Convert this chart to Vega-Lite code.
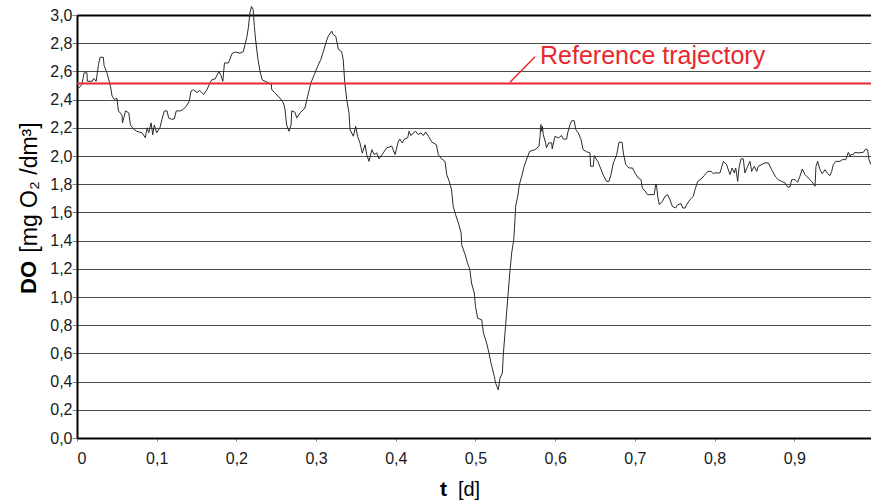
{
  "$schema": "https://vega.github.io/schema/vega-lite/v6.json",
  "width": 794,
  "height": 423,
  "autosize": "none",
  "padding": {"left": 77, "top": 15, "right": 0, "bottom": 63},
  "background": "white",
  "config": {"view": {"stroke": null}, "font": "Liberation Sans"},
  "resolve": {"axis": {"x": "independent", "y": "independent"}},
  "layer": [
    {
      "data": {"values": [
        {"t":0.002,"DO":2.48},{"t":0.006,"DO":2.507},{"t":0.009,"DO":2.59},{"t":0.0125,"DO":2.59},{"t":0.013,"DO":2.53},{"t":0.019,"DO":2.53},{"t":0.021,"DO":2.55},{"t":0.024,"DO":2.53},{"t":0.027,"DO":2.65},{"t":0.029,"DO":2.70},{"t":0.033,"DO":2.70},{"t":0.034,"DO":2.64},{"t":0.0376,"DO":2.59},{"t":0.042,"DO":2.495},{"t":0.044,"DO":2.425},{"t":0.047,"DO":2.40},{"t":0.050,"DO":2.41},{"t":0.052,"DO":2.32},{"t":0.0565,"DO":2.29},{"t":0.057,"DO":2.235},{"t":0.061,"DO":2.32},{"t":0.065,"DO":2.305},{"t":0.067,"DO":2.22},{"t":0.071,"DO":2.19},{"t":0.075,"DO":2.175},{"t":0.0816,"DO":2.165},{"t":0.0857,"DO":2.13},{"t":0.088,"DO":2.20},{"t":0.09,"DO":2.165},{"t":0.093,"DO":2.235},{"t":0.095,"DO":2.15},{"t":0.097,"DO":2.22},{"t":0.10,"DO":2.165},{"t":0.104,"DO":2.20},{"t":0.1066,"DO":2.26},{"t":0.1096,"DO":2.32},{"t":0.113,"DO":2.32},{"t":0.115,"DO":2.27},{"t":0.119,"DO":2.26},{"t":0.122,"DO":2.263},{"t":0.1246,"DO":2.32},{"t":0.1297,"DO":2.32},{"t":0.133,"DO":2.33},{"t":0.137,"DO":2.353},{"t":0.141,"DO":2.39},{"t":0.143,"DO":2.46},{"t":0.146,"DO":2.47},{"t":0.1506,"DO":2.45},{"t":0.154,"DO":2.465},{"t":0.159,"DO":2.436},{"t":0.163,"DO":2.47},{"t":0.167,"DO":2.52},{"t":0.169,"DO":2.54},{"t":0.1735,"DO":2.547},{"t":0.178,"DO":2.60},{"t":0.1807,"DO":2.57},{"t":0.183,"DO":2.53},{"t":0.185,"DO":2.66},{"t":0.19,"DO":2.66},{"t":0.1945,"DO":2.727},{"t":0.1986,"DO":2.737},
        {"t":0.2045,"DO":2.73},{"t":0.2087,"DO":2.74},{"t":0.213,"DO":2.84},{"t":0.215,"DO":2.91},{"t":0.217,"DO":3.016},{"t":0.219,"DO":3.06},{"t":0.221,"DO":3.04},{"t":0.2225,"DO":2.92},{"t":0.224,"DO":2.83},{"t":0.2267,"DO":2.70},{"t":0.2296,"DO":2.60},{"t":0.2325,"DO":2.54},{"t":0.236,"DO":2.53},{"t":0.24,"DO":2.52},{"t":0.244,"DO":2.507},{"t":0.2443,"DO":2.47},{"t":0.248,"DO":2.45},{"t":0.2547,"DO":2.41},{"t":0.259,"DO":2.377},{"t":0.261,"DO":2.33},{"t":0.263,"DO":2.22},{"t":0.266,"DO":2.175},{"t":0.2686,"DO":2.22},{"t":0.2694,"DO":2.32},{"t":0.2735,"DO":2.31},{"t":0.2757,"DO":2.27},{"t":0.28,"DO":2.306},{"t":0.286,"DO":2.34},{"t":0.2894,"DO":2.424},{"t":0.2936,"DO":2.52},{"t":0.2978,"DO":2.578},{"t":0.302,"DO":2.637},{"t":0.306,"DO":2.685},{"t":0.309,"DO":2.74},{"t":0.313,"DO":2.815},{"t":0.3153,"DO":2.85},{"t":0.3196,"DO":2.886},{"t":0.3216,"DO":2.86},{"t":0.3246,"DO":2.85},{"t":0.328,"DO":2.756},{"t":0.332,"DO":2.74},{"t":0.334,"DO":2.685},{"t":0.336,"DO":2.52},{"t":0.3384,"DO":2.40},{"t":0.3413,"DO":2.306},{"t":0.3425,"DO":2.188},{"t":0.3467,"DO":2.14},{"t":0.3497,"DO":2.21},{"t":0.352,"DO":2.14},{"t":0.355,"DO":2.093},{"t":0.358,"DO":2.02},{"t":0.3614,"DO":2.08},{"t":0.3635,"DO":2.01},{"t":0.3664,"DO":1.962},{"t":0.37,"DO":2.045},{"t":0.373,"DO":2.01},{"t":0.376,"DO":2.022},{"t":0.379,"DO":1.98},{"t":0.3843,"DO":2.022},{"t":0.3886,"DO":2.058},{"t":0.395,"DO":2.07},
        {"t":0.399,"DO":2.01},{"t":0.403,"DO":2.10},{"t":0.405,"DO":2.12},{"t":0.408,"DO":2.093},{"t":0.4107,"DO":2.12},{"t":0.415,"DO":2.13},{"t":0.4166,"DO":2.175},{"t":0.419,"DO":2.145},{"t":0.422,"DO":2.164},{"t":0.425,"DO":2.175},{"t":0.428,"DO":2.152},{"t":0.4316,"DO":2.164},{"t":0.4345,"DO":2.145},{"t":0.4375,"DO":2.17},{"t":0.441,"DO":2.14},{"t":0.445,"DO":2.10},{"t":0.451,"DO":2.08},{"t":0.4533,"DO":2.01},{"t":0.4576,"DO":1.98},{"t":0.4617,"DO":1.962},{"t":0.4639,"DO":1.868},{"t":0.467,"DO":1.82},{"t":0.470,"DO":1.76},{"t":0.472,"DO":1.643},{"t":0.475,"DO":1.584},{"t":0.4785,"DO":1.525},{"t":0.482,"DO":1.454},{"t":0.4827,"DO":1.371},{"t":0.487,"DO":1.30},{"t":0.490,"DO":1.24},{"t":0.493,"DO":1.193},{"t":0.495,"DO":1.099},{"t":0.4985,"DO":1.028},{"t":0.500,"DO":0.933},{"t":0.5027,"DO":0.85},{"t":0.5078,"DO":0.838},{"t":0.51,"DO":0.744},{"t":0.514,"DO":0.673},{"t":0.517,"DO":0.60},{"t":0.5195,"DO":0.53},{"t":0.5216,"DO":0.483},{"t":0.5236,"DO":0.435},{"t":0.5253,"DO":0.388},{"t":0.5286,"DO":0.341},{"t":0.5307,"DO":0.424},{"t":0.5337,"DO":0.46},{"t":0.535,"DO":0.60},{"t":0.537,"DO":0.744},{"t":0.539,"DO":0.886},{"t":0.541,"DO":1.028},{"t":0.543,"DO":1.17},{"t":0.5454,"DO":1.312},{"t":0.548,"DO":1.406},{"t":0.5495,"DO":1.548},{"t":0.5504,"DO":1.643},{"t":0.553,"DO":1.714},{"t":0.555,"DO":1.797},{"t":0.558,"DO":1.856},{"t":0.561,"DO":1.927},{"t":0.5655,"DO":1.998},{"t":0.568,"DO":2.033},{"t":0.5747,"DO":2.045},{"t":0.5797,"DO":2.07},{"t":0.581,"DO":2.14},{"t":0.582,"DO":2.223},{"t":0.583,"DO":2.175},{"t":0.584,"DO":2.21},{"t":0.585,"DO":2.152},{"t":0.588,"DO":2.093},{"t":0.589,"DO":2.058},{"t":0.592,"DO":2.093},{"t":0.5956,"DO":2.093},{"t":0.5963,"DO":2.05},
        {"t":0.5997,"DO":2.14},{"t":0.604,"DO":2.128},{"t":0.608,"DO":2.145},{"t":0.6101,"DO":2.12},{"t":0.6144,"DO":2.12},{"t":0.6157,"DO":2.164},{"t":0.6186,"DO":2.223},{"t":0.6207,"DO":2.25},{"t":0.624,"DO":2.25},{"t":0.6257,"DO":2.188},{"t":0.629,"DO":2.164},{"t":0.6324,"DO":2.117},{"t":0.635,"DO":2.045},{"t":0.6395,"DO":2.03},{"t":0.6437,"DO":2.022},{"t":0.6445,"DO":1.927},{"t":0.6478,"DO":1.927},{"t":0.649,"DO":2.003},{"t":0.6533,"DO":1.962},{"t":0.656,"DO":1.927},{"t":0.660,"DO":1.868},{"t":0.6646,"DO":1.82},{"t":0.6675,"DO":1.82},{"t":0.670,"DO":1.868},{"t":0.673,"DO":1.951},{"t":0.6772,"DO":2.01},{"t":0.680,"DO":2.097},{"t":0.684,"DO":2.097},{"t":0.6855,"DO":2.022},{"t":0.6884,"DO":1.94},{"t":0.6926,"DO":1.915},{"t":0.697,"DO":1.915},{"t":0.700,"DO":1.88},{"t":0.7043,"DO":1.844},{"t":0.7077,"DO":1.832},{"t":0.7093,"DO":1.773},{"t":0.713,"DO":1.75},{"t":0.7158,"DO":1.726},{"t":0.7243,"DO":1.726},{"t":0.726,"DO":1.797},{"t":0.727,"DO":1.797},{"t":0.7286,"DO":1.714},{"t":0.7306,"DO":1.655},{"t":0.7344,"DO":1.678},{"t":0.7378,"DO":1.714},{"t":0.741,"DO":1.726},{"t":0.744,"DO":1.69},{"t":0.747,"DO":1.643},{"t":0.751,"DO":1.631},{"t":0.7537,"DO":1.655},{"t":0.758,"DO":1.662},{"t":0.76,"DO":1.631},{"t":0.763,"DO":1.631},{"t":0.765,"DO":1.655},{"t":0.769,"DO":1.69},{"t":0.7733,"DO":1.714},{"t":0.7754,"DO":1.761},{"t":0.7788,"DO":1.82},{"t":0.783,"DO":1.837},{"t":0.787,"DO":1.861},{"t":0.7914,"DO":1.891},{"t":0.7955,"DO":1.891},{"t":0.7984,"DO":1.875},
        {"t":0.8005,"DO":1.88},{"t":0.8068,"DO":1.88},{"t":0.811,"DO":1.962},{"t":0.815,"DO":1.939},{"t":0.8193,"DO":1.868},{"t":0.822,"DO":1.915},{"t":0.8247,"DO":1.88},{"t":0.8265,"DO":1.915},{"t":0.829,"DO":1.82},{"t":0.8306,"DO":1.915},{"t":0.8331,"DO":1.98},{"t":0.836,"DO":1.98},{"t":0.838,"DO":1.88},{"t":0.8415,"DO":1.927},{"t":0.8444,"DO":1.962},{"t":0.8465,"DO":1.891},{"t":0.8498,"DO":1.927},{"t":0.8528,"DO":1.891},{"t":0.8548,"DO":1.927},{"t":0.8632,"DO":1.951},{"t":0.8674,"DO":1.951},{"t":0.8716,"DO":1.903},{"t":0.8766,"DO":1.851},{"t":0.880,"DO":1.832},{"t":0.8842,"DO":1.82},{"t":0.8883,"DO":1.809},{"t":0.8917,"DO":1.78},{"t":0.8946,"DO":1.78},{"t":0.8967,"DO":1.832},{"t":0.9009,"DO":1.832},{"t":0.9042,"DO":1.813},{"t":0.907,"DO":1.856},{"t":0.91,"DO":1.908},{"t":0.9134,"DO":1.868},{"t":0.9175,"DO":1.844},{"t":0.9218,"DO":1.82},{"t":0.926,"DO":1.785},{"t":0.9272,"DO":1.927},{"t":0.9293,"DO":1.962},{"t":0.9322,"DO":1.903},{"t":0.935,"DO":1.875},{"t":0.9385,"DO":1.903},{"t":0.9419,"DO":1.875},{"t":0.9448,"DO":1.861},{"t":0.9469,"DO":1.891},{"t":0.949,"DO":1.939},{"t":0.952,"DO":1.962},{"t":0.9573,"DO":1.962},{"t":0.9603,"DO":1.974},{"t":0.9645,"DO":1.974},{"t":0.9678,"DO":2.026},{"t":0.97,"DO":1.998},{"t":0.9711,"DO":2.01},{"t":0.974,"DO":2.01},{"t":0.976,"DO":2.026},{"t":0.980,"DO":2.022},{"t":0.9866,"DO":2.026},{"t":0.9896,"DO":2.05},{"t":0.992,"DO":2.043},{"t":0.9937,"DO":1.974},{"t":0.9962,"DO":1.939}
      ]},
      "mark": {"type": "line", "color": "#2a2a2a", "strokeWidth": 1},
      "encoding": {
        "x": {"field": "t", "type": "quantitative",
          "scale": {"domain": [0, 0.99624], "nice": false, "zero": false},
          "axis": {"orient": "bottom", "values": [0,0.1,0.2,0.3,0.4,0.5,0.6,0.7,0.8,0.9],
            "labelExpr": "datum.value == 0 ? '0' : replace(format(datum.value, '.1f'), '.', ',')",
            "labelFontSize": 16, "labelColor": "#1a1a1a", "labelBaseline": "alphabetic", "labelPadding": 22,
            "domainColor": "#000", "domainWidth": 2, "tickColor": "#888", "tickSize": 3, "grid": false,
            "title": "t", "titleFontSize": 21, "titleFontWeight": "bold", "titleColor": "#000",
            "titleX": 366, "titleY": 57, "titleAlign": "center", "titleBaseline": "alphabetic", "titleAngle": 0}},
        "y": {"field": "DO", "type": "quantitative",
          "scale": {"domain": [0, 3], "nice": false},
          "axis": {"orient": "left", "values": [0,0.2,0.4,0.6,0.8,1.0,1.2,1.4,1.6,1.8,2.0,2.2,2.4,2.6,2.8,3.0],
            "labelExpr": "replace(format(datum.value, '.1f'), '.', ',')",
            "labelFontSize": 16, "labelColor": "#1a1a1a", "labelPadding": 0,
            "domainColor": "#000", "domainWidth": 2, "tickColor": "#888", "tickSize": 5,
            "grid": true, "gridColor": "#4a4a4a", "gridWidth": 1,
            "title": "DO", "titleFontSize": 22, "titleFontWeight": "bold", "titleColor": "#000",
            "titleX": -42, "titleY": 262, "titleAlign": "center", "titleBaseline": "alphabetic", "titleAngle": 270}}
      }
    },
    {
      "data": {"values": [{"ref": 2.515}]},
      "mark": {"type": "rule", "color": "#e8282c", "strokeWidth": 2},
      "encoding": {"y": {"field": "ref", "type": "quantitative", "axis": null}}
    },
    {
      "data": {"values": [{"t1": 0.5433, "v1": 2.523, "t2": 0.5747, "v2": 2.704}]},
      "mark": {"type": "rule", "color": "#e8282c", "strokeWidth": 1.5},
      "encoding": {
        "x": {"field": "t1", "type": "quantitative",
          "axis": {"orient": "top", "labels": false, "ticks": false, "grid": false,
            "domain": true, "domainColor": "#000", "domainWidth": 2,
            "title": "[d]", "titleFontSize": 20, "titleFontWeight": "normal", "titleColor": "#000",
            "titleX": 391.5, "titleY": 480, "titleAlign": "center", "titleBaseline": "alphabetic", "titleAngle": 0}},
        "y": {"field": "v1", "type": "quantitative",
          "axis": {"orient": "right", "labels": false, "ticks": false, "grid": false, "domain": false,
            "title": "[mg O₂ /dm³]", "titleFontSize": 23, "titleFontWeight": "normal", "titleColor": "#000",
            "titleX": -834.5, "titleY": 172, "titleAlign": "center", "titleBaseline": "alphabetic", "titleAngle": 270}},
        "x2": {"field": "t2"},
        "y2": {"field": "v2"}
      }
    },
    {
      "data": {"values": [{"t": 0.581, "v": 2.654, "label": "Reference trajectory"}]},
      "mark": {"type": "text", "color": "#e8282c", "fontSize": 25, "align": "left", "baseline": "alphabetic"},
      "encoding": {
        "x": {"field": "t", "type": "quantitative", "axis": null},
        "y": {"field": "v", "type": "quantitative", "axis": null},
        "text": {"field": "label"}
      }
    }
  ]
}
